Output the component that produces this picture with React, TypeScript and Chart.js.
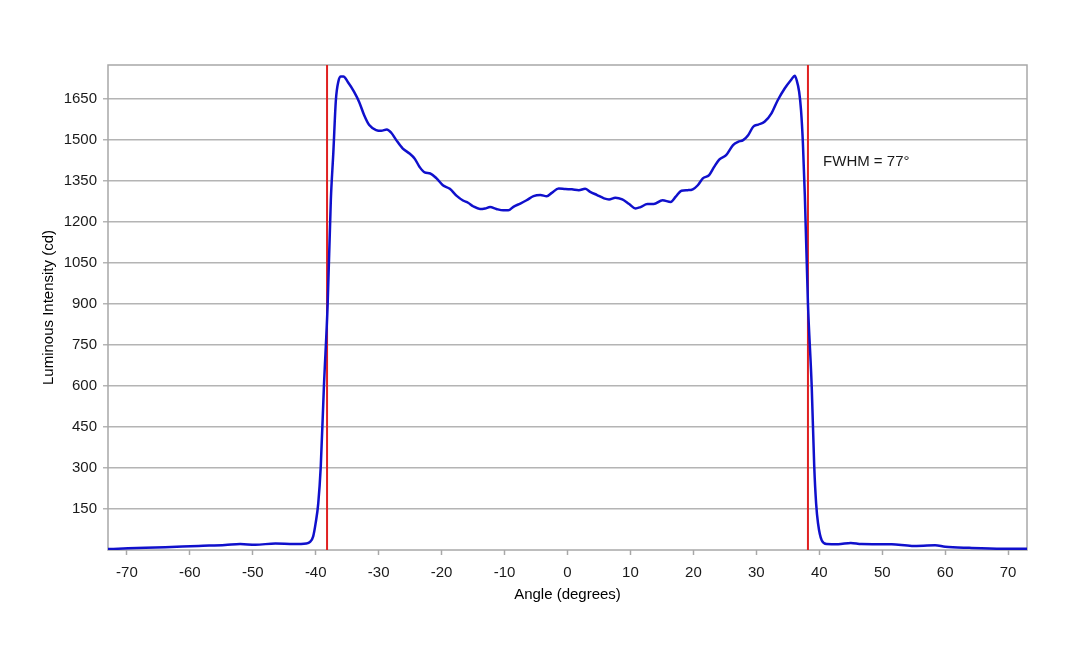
import React, { useEffect, useRef } from "react";
import { Chart, registerables } from "chart.js";

Chart.register(...registerables);

// Angle (degrees) and luminous intensity (cd)
const angles: number[] = [
  -73.3, -69.8, -63.9, -58.6, -54.4, -52.0, -49.6, -46.4, -43.5, -41.5, -40.9, -40.4, -40.0,
  -39.6, -39.2, -38.7, -38.1, -37.6, -37.2, -36.8, -36.4, -36.0, -35.6, -34.9, -33.9, -33.1,
  -32.3, -31.5, -30.4, -29.6, -28.7, -28.0, -27.2, -26.2, -25.1, -24.3, -23.5, -22.7, -21.8,
  -20.8, -19.8, -18.7, -17.6, -16.6, -15.8, -15.0, -13.9, -13.1, -12.3, -11.3, -10.2, -9.4,
  -8.6, -7.5, -6.5, -5.4, -4.3, -3.3, -2.5, -1.4, -0.35, 0.7, 1.8, 2.8, 3.6, 4.7, 5.8, 6.6,
  7.6, 8.7, 9.8, 10.8, 11.6, 12.7, 13.7, 15.1, 16.4, 17.2, 18.1, 19.1, 19.9, 20.7, 21.5, 22.5,
  23.3, 24.1, 25.2, 26.3, 27.1, 27.9, 28.7, 29.5, 30.3, 31.3, 32.4, 33.4, 34.5, 35.6, 36.1,
  36.4, 36.8, 37.1, 37.4, 37.7, 38.2, 38.8, 39.2, 39.5, 39.8, 40.4, 41.2, 43.0, 45.0, 46.7,
  51.5, 54.7, 58.4, 60.0, 63.8, 69.1, 73.3,
];

const intensity: number[] = [
  3, 6, 10, 15, 18, 22, 19, 24, 22, 24, 30, 50, 100,
  170, 305, 597, 902, 1280, 1455, 1646, 1715, 1733, 1733, 1713, 1677, 1640,
  1591, 1555, 1537, 1534, 1539, 1527, 1500, 1470, 1451, 1433, 1402, 1382, 1378,
  1360, 1335, 1322, 1296, 1279, 1271, 1258, 1248, 1250, 1255, 1248, 1243, 1243,
  1256, 1268, 1280, 1295, 1299, 1295, 1307, 1323, 1321, 1320, 1317, 1322, 1311, 1299, 1287, 1283,
  1289, 1283, 1266, 1250, 1255, 1266, 1266, 1280, 1274, 1293, 1315, 1317, 1320, 1335, 1360, 1372,
  1402, 1429, 1445, 1482, 1494, 1500, 1518, 1549, 1557, 1567, 1598, 1646, 1689, 1723, 1736,
  1720, 1677, 1610, 1488, 1300, 902, 597, 305, 170, 98, 35, 22, 21, 26, 22,
  21, 15, 17, 12, 8, 5, 5,
];

// FWHM marker lines (degrees)
const fwhmLines: number[] = [-38.2, 38.2];
const fwhmText = "FWHM = 77°";
const fwhmLabelPos = { x: 40.6, y: 1419 };

const xTicks: number[] = [-70, -60, -50, -40, -30, -20, -10, 0, 10, 20, 30, 40, 50, 60, 70];
const yTicks: number[] = [150, 300, 450, 600, 750, 900, 1050, 1200, 1350, 1500, 1650];

const X_MIN = -73;
const X_MAX = 73;
const Y_MIN = 0;
const Y_MAX = 1775;

const FONT = "'Liberation Sans', Arial, sans-serif";
const GRID = "#b4b4b4";
const BORDER = "#a8a8a8";

export default function App() {
  const canvasRef = useRef<HTMLCanvasElement | null>(null);

  useEffect(() => {
    document.body.style.margin = "0";
    const canvas = canvasRef.current;
    if (!canvas) return;

    const boxPlugin = {
      id: "plotBox",
      beforeDatasetsDraw(chart: any) {
        const { ctx, chartArea } = chart;
        ctx.save();
        ctx.strokeStyle = BORDER;
        ctx.lineWidth = 1.5;
        ctx.strokeRect(chartArea.left, chartArea.top, chartArea.right - chartArea.left, chartArea.bottom - chartArea.top);
        ctx.restore();
      },
      afterDatasetsDraw(chart: any) {
        const { ctx, scales } = chart;
        ctx.save();
        ctx.fillStyle = "#1a1a1a";
        ctx.font = `15px ${FONT}`;
        ctx.textAlign = "left";
        ctx.textBaseline = "middle";
        ctx.fillText(fwhmText, scales.x.getPixelForValue(fwhmLabelPos.x), scales.y.getPixelForValue(fwhmLabelPos.y));
        ctx.restore();
      },
    };

    const curve = angles.map((a, i) => ({ x: a, y: intensity[i] }));
    const redSets = fwhmLines.map((v) => ({
      data: [
        { x: v, y: Y_MIN },
        { x: v, y: Y_MAX },
      ],
      borderColor: "#e02020",
      borderWidth: 2,
      pointRadius: 0,
      tension: 0,
    }));

    const chart = new Chart(canvas, {
      type: "line",
      data: {
        datasets: [
          {
            data: curve,
            borderColor: "#1010cc",
            borderWidth: 2.5,
            pointRadius: 0,
            cubicInterpolationMode: "monotone",
          },
          ...redSets,
        ],
      },
      options: {
        animation: false,
        responsive: true,
        maintainAspectRatio: false,
        layout: { padding: { top: 65, right: 53, left: 0, bottom: 0 } },
        plugins: { legend: { display: false }, tooltip: { enabled: false } },
        scales: {
          x: {
            type: "linear",
            min: X_MIN,
            max: X_MAX,
            afterBuildTicks: (scale: any) => {
              scale.ticks = xTicks.map((v) => ({ value: v }));
            },
            afterFit: (scale: any) => {
              scale.height = 98;
            },
            grid: { drawOnChartArea: false, color: BORDER, tickLength: 5, tickWidth: 1.5 },
            border: { display: false },
            ticks: {
              color: "#1a1a1a",
              font: { family: FONT, size: 15 },
              padding: 9,
              maxRotation: 0,
              callback: (v: any) => String(v),
            },
            title: {
              display: true,
              text: "Angle (degrees)",
              color: "#000",
              font: { family: FONT, size: 15 },
              padding: { top: 0, bottom: 44 },
            },
          },
          y: {
            type: "linear",
            min: Y_MIN,
            max: Y_MAX,
            afterBuildTicks: (scale: any) => {
              scale.ticks = yTicks.map((v) => ({ value: v }));
            },
            afterFit: (scale: any) => {
              scale.width = 108;
            },
            grid: { color: GRID, lineWidth: 1.5, tickLength: 5 },
            border: { display: false },
            ticks: {
              color: "#1a1a1a",
              font: { family: FONT, size: 15 },
              padding: 6,
              callback: (v: any) => String(v),
            },
            title: {
              display: true,
              text: "Luminous Intensity (cd)",
              color: "#000",
              font: { family: FONT, size: 15 },
              padding: { top: 40, bottom: 0 },
            },
          },
        },
      },
      plugins: [boxPlugin],
    } as any);

    return () => chart.destroy();
  }, []);

  return (
    <div style={{ position: "relative", width: 1080, height: 648 }}>
      <canvas ref={canvasRef} />
    </div>
  );
}
